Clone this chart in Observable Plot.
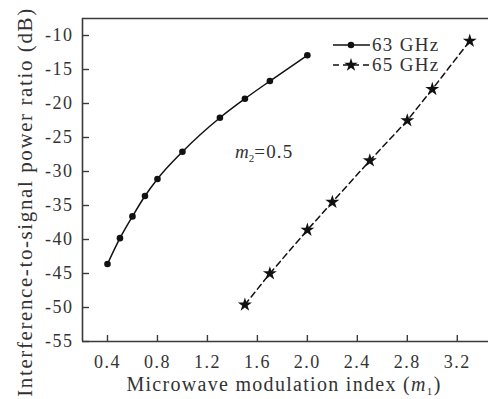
<!DOCTYPE html>
<html>
<head>
<meta charset="utf-8">
<script src="https://cdn.jsdelivr.net/npm/d3@7"></script>
<script src="https://cdn.jsdelivr.net/npm/@observablehq/plot@0.6"></script>
<style>
  html, body { margin: 0; padding: 0; background: #fff; }
  #chart svg { display: block; }
  #chart svg, #chart svg text { font-family: "Liberation Serif", serif !important; }
</style>
</head>
<body>
<div id="chart"></div>
<script>
// Data
const x63 = [0.4, 0.5, 0.6, 0.7, 0.8, 1.0, 1.3, 1.5, 1.7, 2.0];
const y63 = [-43.6, -39.8, -36.6, -33.6, -31.1, -27.1, -22.1, -19.3, -16.7, -12.9];
const x65 = [1.5, 1.7, 2.0, 2.2, 2.5, 2.8, 3.0, 3.3];
const y65 = [-49.6, -45.0, -38.6, -34.5, -28.4, -22.5, -17.9, -10.8];
const seriesNames = ["63 GHz", "65 GHz"];
const xTicks = [0.4, 0.8, 1.2, 1.6, 2.0, 2.4, 2.8, 3.2];
const yTicks = [-55, -50, -45, -40, -35, -30, -25, -20, -15, -10];
const xDomain = [0.2, 3.45];
const yDomain = [-55, -7.5];
const annotation = {name: "m", sub: "2", rest: "=0.5"};

const d63 = x63.map((x, i) => ({x, y: y63[i]}));
const d65 = x65.map((x, i) => ({x, y: y65[i]}));

const W = 488, H = 399;
const mL = 82, mT = 18, mB = 58, mR = 0;
const innerW = W - mL - mR, innerH = H - mT - mB;
const axisColor = "#3a3a3a";
const font = "Liberation Serif, serif";

const plot = Plot.plot({
  width: W, height: H,
  marginLeft: mL, marginTop: mT, marginBottom: mB, marginRight: mR,
  style: {fontFamily: font, fontSize: "18px", color: "#333", background: "#fff"},
  x: {domain: xDomain, ticks: xTicks, tickFormat: d => d.toFixed(1), tickSize: 0, tickPadding: 14, label: null},
  y: {domain: yDomain, ticks: yTicks, tickFormat: d => String(d), tickSize: 0, tickPadding: 9, label: null},
  marks: [
    // axis lines
    Plot.ruleX([xDomain[0]], {stroke: axisColor, strokeWidth: 1.6}),
    Plot.ruleY([yDomain[0]], {stroke: axisColor, strokeWidth: 1.6}),
    Plot.ruleY([yDomain[1]], {stroke: axisColor, strokeWidth: 1.6}),
    // inward ticks
    Plot.ruleX(xTicks, {x: d => d, stroke: axisColor, strokeWidth: 1.4, insetTop: innerH - 6}),
    Plot.ruleY(yTicks, {y: d => d, stroke: axisColor, strokeWidth: 1.4, insetRight: innerW - 7}),
    // series
    Plot.line(d63, {x: "x", y: "y", stroke: "#111", strokeWidth: 1.5, curve: "monotone-x"}),
    Plot.dot(d63, {x: "x", y: "y", r: 3.3, fill: "#111", stroke: "none"}),
    Plot.line(d65, {x: "x", y: "y", stroke: "#111", strokeWidth: 1.5, strokeDasharray: "6,4"}),
    Plot.dot(d65, {x: "x", y: "y", r: 4.4, symbol: "star", fill: "#111", stroke: "none"})
  ]
});

document.getElementById("chart").appendChild(plot);

const svg = d3.select(plot);
svg.selectAll("g[aria-label='x-axis tick label'] text, g[aria-label='y-axis tick label'] text")
  .attr("letter-spacing", "1.5px");

// Legend
const leg = svg.append("g").attr("font-family", font).attr("font-size", 19).attr("fill", "#333").attr("text-anchor", "start");
const legRows = [
  {y: 45, dash: null, symbol: "circle"},
  {y: 65, dash: "6,4", symbol: "star"}
];
legRows.forEach((r, i) => {
  leg.append("line").attr("x1", 333).attr("x2", 370).attr("y1", r.y).attr("y2", r.y)
    .attr("stroke", "#111").attr("stroke-width", 1.5).attr("stroke-dasharray", r.dash);
  if (r.symbol === "circle") {
    leg.append("circle").attr("cx", 351).attr("cy", r.y).attr("r", 3.3).attr("fill", "#111");
  } else {
    leg.append("path").attr("d", d3.symbol(d3.symbolStar, 55)()).attr("transform", `translate(351,${r.y})`).attr("fill", "#111");
  }
  leg.append("text").attr("x", 372).attr("y", r.y + 6).attr("letter-spacing", "1.3px").text(seriesNames[i]);
});

// Annotation m2=0.5
const ann = svg.append("text").attr("x", 235).attr("y", 158).attr("text-anchor", "start")
  .attr("font-family", font).attr("font-size", 19).attr("fill", "#333");
ann.append("tspan").attr("font-style", "italic").text(annotation.name);
ann.append("tspan").attr("font-size", 11).attr("dy", 4).text(annotation.sub);
ann.append("tspan").attr("dy", -4).attr("letter-spacing", "1.2px").text(annotation.rest);

// Axis titles
const xl = svg.append("text").attr("x", 284).attr("y", 391).attr("text-anchor", "middle")
  .attr("font-family", font).attr("font-size", 20).attr("fill", "#333").attr("letter-spacing", "1.3px");
xl.append("tspan").text("Microwave modulation index (");
xl.append("tspan").attr("font-style", "italic").text("m");
xl.append("tspan").attr("font-size", 11).attr("dy", 4).text("1");
xl.append("tspan").attr("dy", -4).text(")");

svg.append("text").attr("transform", "translate(32,202) rotate(-90)").attr("text-anchor", "middle")
  .attr("font-family", font).attr("font-size", 21).attr("fill", "#333").attr("letter-spacing", "1.6px")
  .text("Interference-to-signal power ratio (dB)");
</script>
</body>
</html>
